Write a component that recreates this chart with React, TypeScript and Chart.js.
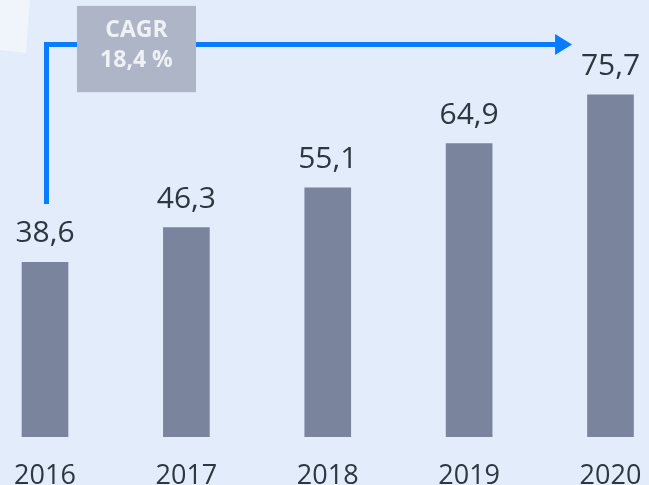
import React, { useEffect, useRef } from "react";
import { Chart, registerables } from "chart.js";

Chart.register(...registerables);

const categories = ["2016", "2017", "2018", "2019", "2020"];
const values = [38.6, 46.3, 55.1, 64.9, 75.7];
const valueLabels = ["38,6", "46,3", "55,1", "64,9", "75,7"];
const cagrLines = ["CAGR", "18,4 %"];

const BG = "rgb(227,236,251)";
const BAR = "#7a849c";
const TEXT = "#2e3640";
const BLUE = "#0a7cff";
const BOX = "#adb5c6";
const FONT = "'Open Sans', 'Noto Sans', sans-serif";

const decorPlugin = {
  id: "decor",
  beforeDraw(chart: any) {
    const { ctx, width, height } = chart;
    ctx.save();
    ctx.fillStyle = BG;
    ctx.fillRect(0, 0, width, height);
    ctx.fillStyle = "#f0f4fb";
    ctx.beginPath();
    ctx.moveTo(0, 0);
    ctx.lineTo(30, 0);
    ctx.lineTo(26, 53);
    ctx.lineTo(0, 50);
    ctx.closePath();
    ctx.fill();
    ctx.restore();
  },
  afterDraw(chart: any) {
    const { ctx } = chart;
    const xs = chart.scales.x;
    const ys = chart.scales.y;
    const meta = chart.getDatasetMeta(0);
    ctx.save();
    // value labels
    ctx.fillStyle = TEXT;
    ctx.font = `400 30px ${FONT}`;
    ctx.textAlign = "center";
    ctx.textBaseline = "alphabetic";
    meta.data.forEach((bar: any, i: number) => {
      ctx.fillText(valueLabels[i], bar.x, bar.y - 20);
    });
    // CAGR arrow
    const x0 = meta.data[0].x + 1.5;
    const yTop = ys.getPixelForValue(86.85);
    const yBot = ys.getPixelForValue(51.5);
    const xTip = xs.getPixelForValue(3.728);
    ctx.strokeStyle = BLUE;
    ctx.lineWidth = 5;
    ctx.lineCap = "butt";
    ctx.lineJoin = "miter";
    ctx.beginPath();
    ctx.moveTo(x0, yBot);
    ctx.lineTo(x0, yTop);
    ctx.lineTo(xTip - 16, yTop);
    ctx.stroke();
    ctx.fillStyle = BLUE;
    ctx.beginPath();
    ctx.moveTo(xTip - 17, yTop - 10.5);
    ctx.lineTo(xTip, yTop);
    ctx.lineTo(xTip - 17, yTop + 10.5);
    ctx.closePath();
    ctx.fill();
    // CAGR box
    const bx0 = xs.getPixelForValue(0.226);
    const bx1 = xs.getPixelForValue(1.068);
    const by0 = ys.getPixelForValue(95.4);
    const by1 = ys.getPixelForValue(76.3);
    ctx.fillStyle = BOX;
    ctx.fillRect(bx0, by0, bx1 - bx0, by1 - by0);
    ctx.fillStyle = "#eef1f6";
    ctx.font = `700 23px ${FONT}`;
    ctx.textBaseline = "middle";
    const cx = (bx0 + bx1) / 2;
    ctx.fillText(cagrLines[0], cx, by0 + 25);
    ctx.fillText(cagrLines[1], cx, by0 + 55);
    ctx.restore();
  },
};

export default function App() {
  const ref = useRef<HTMLCanvasElement>(null);
  useEffect(() => {
    if (!ref.current) return;
    const chart = new Chart(ref.current, {
      type: "bar",
      data: {
        labels: categories,
        datasets: [
          {
            data: values,
            backgroundColor: BAR,
            barThickness: 46,
            clip: false as any,
          },
        ],
      },
      options: {
        responsive: false,
        animation: false,
        layout: { padding: { left: 45, right: 38.5, top: 30.3, bottom: 0 } },
        plugins: { legend: { display: false }, tooltip: { enabled: false } },
        scales: {
          x: {
            offset: false,
            grid: { display: false, drawTicks: false },
            border: { display: false },
            ticks: {
              color: TEXT,
              font: { family: FONT, size: 27 },
              padding: 24,
              maxRotation: 0,
              autoSkip: false,
            },
            afterFit: (scale: any) => {
              scale.paddingLeft = 0;
              scale.paddingRight = 0;
            },
          },
          y: { display: false, min: 0, max: 90 },
        },
      },
      plugins: [decorPlugin],
    });
    return () => chart.destroy();
  }, []);
  return (
    <div style={{ position: "absolute", left: 0, top: 0, width: 649, height: 485, overflow: "hidden" }}>
      <canvas ref={ref} width={649} height={517} style={{ display: "block" }} />
    </div>
  );
}
